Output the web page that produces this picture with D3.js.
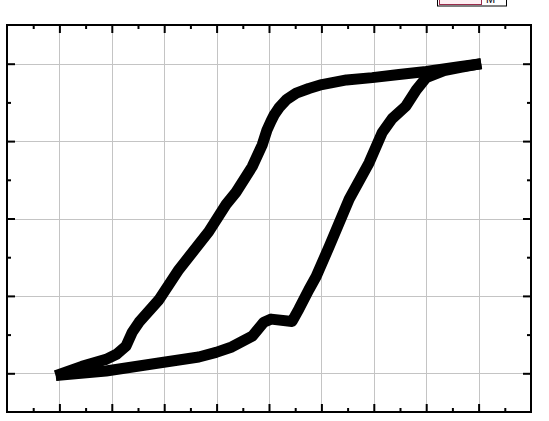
<!DOCTYPE html>
<html>
<head>
<meta charset="utf-8">
<script src="https://cdn.jsdelivr.net/npm/d3@7"></script>
<style>
  body { margin: 0; background: #fff; }
  svg { display: block; }
</style>
</head>
<body>
<div id="chart"></div>
<script>
// axis setup
var xDomain = [-5, 5];
var yDomain = [-2.5, 2.5];
var xMajor = [-4, -3, -2, -1, 0, 1, 2, 3, 4];
var xMinor = [-4.5, -3.5, -2.5, -1.5, -0.5, 0.5, 1.5, 2.5, 3.5, 4.5];
var yMajor = [-2, -1, 0, 1, 2];
var yMinor = [-1.5, -0.5, 0.5, 1.5];

// descending branch (right tip -> left tip)
var upperH = [4.05, 3.63, 3.00, 2.48, 1.97, 1.48, 1.01, 0.76, 0.52, 0.34, 0.19, 0.10, 0.04, -0.04, -0.13, -0.32, -0.63, -0.82, -1.15, -1.72, -2.10, -2.48, -2.61, -2.73, -2.90, -3.11, -3.57, -4.07];
var upperM = [2.00, 1.96, 1.90, 1.86, 1.82, 1.79, 1.73, 1.68, 1.62, 1.54, 1.43, 1.34, 1.26, 1.14, 0.95, 0.67, 0.34, 0.18, -0.17, -0.66, -1.05, -1.34, -1.47, -1.65, -1.75, -1.82, -1.91, -2.03];

// ascending branch (left tip -> right tip)
var lowerH = [-4.07, -3.11, -2.04, -1.34, -1.01, -0.71, -0.32, -0.10, 0.04, 0.44, 0.57, 0.76, 0.90, 1.15, 1.53, 1.91, 2.16, 2.35, 2.61, 2.81, 3.00, 3.34, 3.63, 4.05];
var lowerM = [-2.03, -1.97, -1.86, -1.79, -1.73, -1.66, -1.52, -1.34, -1.30, -1.33, -1.17, -0.92, -0.75, -0.36, 0.25, 0.72, 1.11, 1.29, 1.45, 1.66, 1.82, 1.91, 1.95, 2.00];

var width = 549, height = 421;
var plotL = 7, plotR = 531, plotT = 25, plotB = 412;

var svg = d3.select("#chart").append("svg")
  .attr("width", width)
  .attr("height", height);

var x = d3.scaleLinear().domain(xDomain).range([plotL, plotR]);
var y = d3.scaleLinear().domain(yDomain).range([plotB, plotT]);

// grid
svg.append("g").selectAll("line").data(xMajor).enter().append("line")
  .attr("x1", d => Math.round(x(d)) + 0.5).attr("x2", d => Math.round(x(d)) + 0.5)
  .attr("y1", plotT).attr("y2", plotB)
  .style("stroke", "#c4c4c4").style("stroke-width", 1);
svg.append("g").selectAll("line").data(yMajor).enter().append("line")
  .attr("y1", d => Math.round(y(d)) + 0.5).attr("y2", d => Math.round(y(d)) + 0.5)
  .attr("x1", plotL).attr("x2", plotR)
  .style("stroke", "#c4c4c4").style("stroke-width", 1);

// the loop, drawn as two branches
var line = d3.line()
  .x(d => x(d[0]))
  .y(d => y(d[1]));

var branches = [
  upperH.map((h, i) => [h, upperM[i]]),
  lowerH.map((h, i) => [h, lowerM[i]])
];

svg.append("g").selectAll("path").data(branches).enter().append("path")
  .attr("d", line)
  .style("fill", "none")
  .style("stroke", "#000")
  .style("stroke-width", 11)
  .style("stroke-linejoin", "round")
  .style("stroke-linecap", "butt");

// ticks, pointing inward on all four sides
var axes = svg.append("g");
axes.append("g").attr("transform", "translate(0," + plotB + ")")
  .call(d3.axisTop(x).tickValues(xMajor).tickSize(8).tickFormat(""));
axes.append("g").attr("transform", "translate(0," + plotB + ")")
  .call(d3.axisTop(x).tickValues(xMinor).tickSize(4).tickFormat(""));
axes.append("g").attr("transform", "translate(0," + plotT + ")")
  .call(d3.axisBottom(x).tickValues(xMajor).tickSize(8).tickFormat(""));
axes.append("g").attr("transform", "translate(0," + plotT + ")")
  .call(d3.axisBottom(x).tickValues(xMinor).tickSize(4).tickFormat(""));
axes.append("g").attr("transform", "translate(" + plotL + ",0)")
  .call(d3.axisRight(y).tickValues(yMajor).tickSize(8).tickFormat(""));
axes.append("g").attr("transform", "translate(" + plotL + ",0)")
  .call(d3.axisRight(y).tickValues(yMinor).tickSize(4).tickFormat(""));
axes.append("g").attr("transform", "translate(" + plotR + ",0)")
  .call(d3.axisLeft(y).tickValues(yMajor).tickSize(8).tickFormat(""));
axes.append("g").attr("transform", "translate(" + plotR + ",0)")
  .call(d3.axisLeft(y).tickValues(yMinor).tickSize(4).tickFormat(""));
axes.selectAll(".domain").remove();
axes.selectAll(".tick line").style("stroke", "#000").style("stroke-width", 2);

// frame
svg.append("rect")
  .attr("x", plotL).attr("y", plotT)
  .attr("width", plotR - plotL).attr("height", plotB - plotT)
  .style("fill", "none").style("stroke", "#000").style("stroke-width", 2);

// legend, mostly cut off at the top
var legend = svg.append("g");
legend.append("rect")
  .attr("x", 437.5).attr("y", -20).attr("width", 69).attr("height", 26)
  .style("fill", "#fff").style("stroke", "#000").style("stroke-width", 1);
legend.append("rect")
  .attr("x", 439.5).attr("y", -20).attr("width", 42).attr("height", 24.5)
  .style("fill", "#fdf0f3").style("stroke", "#9b2c4c").style("stroke-width", 1);
legend.append("text")
  .attr("x", 486).attr("y", 3)
  .style("font-family", "Liberation Sans, Arial, sans-serif")
  .style("font-size", "11px")
  .style("fill", "#000")
  .text("M");
</script>
</body>
</html>
